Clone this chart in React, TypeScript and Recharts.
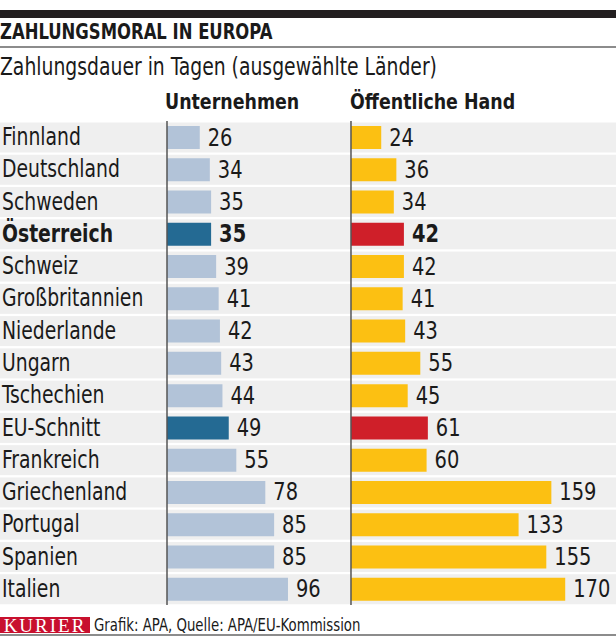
import React from 'react';
import { BarChart, Bar, XAxis, YAxis, Cell, LabelList, ReferenceLine } from 'recharts';

const countries = [
  'Finnland', 'Deutschland', 'Schweden', 'Österreich', 'Schweiz', 'Großbritannien', 'Niederlande',
  'Ungarn', 'Tschechien', 'EU-Schnitt', 'Frankreich', 'Griechenland', 'Portugal', 'Spanien', 'Italien',
];
const unternehmen = [26, 34, 35, 35, 39, 41, 42, 43, 44, 49, 55, 78, 85, 85, 96];
const oeffentlich = [24, 36, 34, 42, 42, 41, 43, 55, 45, 61, 60, 159, 133, 155, 170];
const highlighted = ['Österreich', 'EU-Schnitt'];
const boldRows = ['Österreich'];

const data = countries.map((name, i) => ({ name, u: unternehmen[i], o: oeffentlich[i] }));

// no condensed font like the original, so squeeze DejaVu Sans Condensed a bit
const FONT = '"DejaVu Sans Condensed", "Liberation Sans Narrow", sans-serif';
const SQUEEZE = 0.87;
const W = 616;
const ROW_BG = '#efefef';

const narrow = (s: number = SQUEEZE): React.CSSProperties => ({
  transform: `scaleX(${s})`,
  transformOrigin: 'left top',
  whiteSpace: 'nowrap',
});

const RowBackground = (props: any) => {
  const { y, height } = props;
  return <rect x={0} y={y + height / 2 - 15} width={W} height={30} fill={ROW_BG} />;
};

const CountryTick = (props: any) => {
  const { y, payload } = props;
  const bold = boldRows.includes(payload.value);
  return (
    <text transform={`translate(2,${y + 8}) scale(${SQUEEZE},1)`} textAnchor="start" fontFamily={FONT}
      fontSize={24} fontWeight={bold ? 700 : 400} fill="#1a1a1a">
      {payload.value}
    </text>
  );
};

const valueLabel = (props: any) => {
  const { x, y, width, height, value, index } = props;
  const bold = boldRows.includes(countries[index]);
  return (
    <text transform={`translate(${x + width + 8},${y + height / 2 + 8}) scale(0.9,1)`} fontFamily={FONT}
      fontSize={24} fontWeight={bold ? 700 : 400} fill="#1a1a1a">
      {value}
    </text>
  );
};

export default function App() {
  return (
    <div style={{ position: 'absolute', left: 0, top: 0, width: W, height: 636, background: '#fff', fontFamily: FONT, color: '#1a1a1a', overflow: 'hidden' }}>
      <div style={{ position: 'absolute', left: 0, top: 10, width: W, height: 8, background: '#231f20' }} />
      <div style={{ position: 'absolute', left: 0, top: 20, fontSize: 21, fontWeight: 700, lineHeight: '24px', ...narrow() }}>
        ZAHLUNGSMORAL IN EUROPA
      </div>
      <div style={{ position: 'absolute', left: 0, top: 46, width: W, height: 2, background: '#8c8c8c' }} />
      <div style={{ position: 'absolute', left: 0, top: 52, fontSize: 24, lineHeight: '30px', ...narrow() }}>
        Zahlungsdauer in Tagen (ausgewählte Länder)
      </div>
      <div style={{ position: 'absolute', left: 165, top: 87, fontSize: 22, fontWeight: 700, lineHeight: '30px', ...narrow(0.88) }}>
        Unternehmen
      </div>
      <div style={{ position: 'absolute', left: 350, top: 87, fontSize: 22, fontWeight: 700, lineHeight: '30px', ...narrow(0.88) }}>
        Öffentliche Hand
      </div>

      <div style={{ position: 'absolute', left: 0, top: 121 }}>
        <BarChart width={W} height={484} data={data} layout="vertical" margin={{ top: 0, right: 0, bottom: 0, left: 0 }}>
          <XAxis xAxisId="a" type="number" hide domain={[0, 356.3]} allowDataOverflow />
          <XAxis xAxisId="b" type="number" hide domain={[-146, 210.3]} allowDataOverflow />
          <YAxis yAxisId="b" type="category" dataKey="name" hide />
          <Bar xAxisId="a" yAxisId="a" dataKey="u" barSize={23} background={RowBackground} isAnimationActive={false}>
            {data.map((d) => (
              <Cell key={d.name} fill={highlighted.includes(d.name) ? '#246a93' : '#b2c3d8'} />
            ))}
            <LabelList dataKey="u" content={valueLabel} />
          </Bar>
          <Bar xAxisId="b" yAxisId="b" dataKey="o" barSize={23} isAnimationActive={false}>
            {data.map((d) => (
              <Cell key={d.name} fill={highlighted.includes(d.name) ? '#cf1f29' : '#fcc012'} />
            ))}
            <LabelList dataKey="o" content={valueLabel} />
          </Bar>
          <YAxis yAxisId="a" type="category" dataKey="name" width={167} tick={<CountryTick />}
            tickLine={false} axisLine={{ stroke: '#555', strokeWidth: 1.5 }} interval={0} />
          <ReferenceLine xAxisId="b" yAxisId="b" x={0} stroke="#555" strokeWidth={1.5} />
        </BarChart>
      </div>

      <div style={{ position: 'absolute', left: 0, top: 617, width: 90, height: 16, background: '#c8102e', color: '#fff',
        fontFamily: '"Liberation Serif", serif', fontSize: 19, lineHeight: '17px', letterSpacing: 2, textAlign: 'center' }}>
        KURIER
      </div>
      <div style={{ position: 'absolute', left: 94, top: 615, fontSize: 17, lineHeight: '20px', ...narrow() }}>
        Grafik: APA, Quelle: APA/EU-Kommission
      </div>
      <div style={{ position: 'absolute', left: 0, top: 634, width: W, height: 2, background: '#8c8c8c' }} />
    </div>
  );
}
